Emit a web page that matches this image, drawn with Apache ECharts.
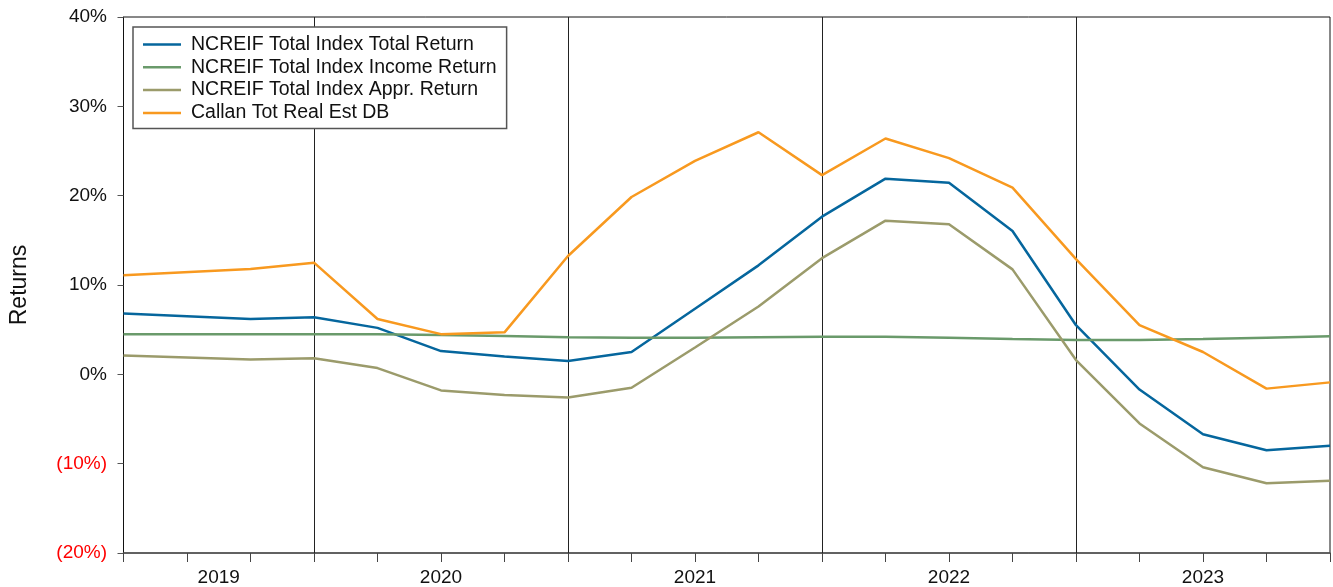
<!DOCTYPE html>
<html>
<head>
<meta charset="utf-8">
<script src="https://cdn.jsdelivr.net/npm/echarts@6/dist/echarts.min.js"></script>
<style>
  html, body { margin: 0; padding: 0; background: #fff; }
  #chart { width: 1333px; height: 587px; }
</style>
</head>
<body>
<div id="chart"></div>
<script>
// quarter ends shown on the chart (2019 Q2 has no point)
var quarters = ['2019Q1', '2019Q3', '2019Q4', '2020Q1', '2020Q2', '2020Q3', '2020Q4',
	'2021Q1', '2021Q2', '2021Q3', '2021Q4', '2022Q1', '2022Q2', '2022Q3', '2022Q4',
	'2023Q1', '2023Q2', '2023Q3', '2023Q4'];
var totalReturn = [6.8, 6.2, 6.4, 5.2, 2.6, 2.0, 1.5, 2.5, 7.35, 12.2, 17.65, 21.9, 21.45, 16.05, 5.5, -1.7, -6.7, -8.5, -8.0];
var incomeReturn = [4.5, 4.5, 4.5, 4.5, 4.4, 4.3, 4.15, 4.1, 4.1, 4.15, 4.2, 4.2, 4.1, 3.95, 3.85, 3.85, 3.95, 4.1, 4.25];
var apprReturn = [2.1, 1.65, 1.8, 0.7, -1.8, -2.3, -2.6, -1.5, 3.0, 7.6, 13.0, 17.2, 16.8, 11.75, 1.6, -5.5, -10.4, -12.2, -11.9];
var callanDB = [11.1, 11.8, 12.5, 6.2, 4.5, 4.7, 13.25, 19.85, 23.9, 27.1, 22.3, 26.4, 24.2, 20.9, 12.9, 5.5, 2.5, -1.6, -0.9];
var seriesNames = ['NCREIF Total Index Total Return', 'NCREIF Total Index Income Return',
	'NCREIF Total Index Appr. Return', 'Callan Tot Real Est DB'];
var yearLabels = ['2019', '2020', '2021', '2022', '2023'];
var yearBoundaries = ['2019Q4', '2020Q4', '2021Q4', '2022Q4'];
var yTicks = [-20, -10, 0, 10, 20, 30, 40];

var font = 'Liberation Sans, Arial, Helvetica, sans-serif';
var colors = ['#05669d', '#6a9a6b', '#9b9b6b', '#f8991f'];

// quarter label -> position on axis (0 = 2019 Q1)
function qPos(q) {
	return (parseInt(q.substr(0, 4), 10) - 2019) * 4 + parseInt(q.substr(5), 10) - 1;
}
var xMin = qPos(quarters[0]);
var xMax = qPos(quarters[quarters.length - 1]);

// year label sits mid-way through the visible part of its year
var yearPos = {};
yearLabels.forEach(function (y) {
	var start = Math.max(qPos(y + 'Q1') - 1, xMin);
	var end = Math.min(qPos(y + 'Q4'), xMax);
	yearPos[(start + end) / 2] = y;
});

function pairs(vals) {
	return vals.map(function (v, i) { return [qPos(quarters[i]), v]; });
}

var chart = echarts.init(document.getElementById('chart'));
var allData = [totalReturn, incomeReturn, apprReturn, callanDB];
var series = allData.map(function (vals, i) {
	return {
		name: seriesNames[i],
		type: 'line',
		symbol: 'none',
		data: pairs(vals),
		lineStyle: { width: 2.5, color: colors[i] },
		itemStyle: { color: colors[i] },
		z: 3
	};
});
series[0].markLine = {
	silent: true,
	symbol: 'none',
	label: { show: false },
	lineStyle: { color: '#222', width: 1, type: 'solid' },
	data: yearBoundaries.map(function (q) { return { xAxis: qPos(q) }; }),
	z: 1
};

var option = {
	animation: false,
	grid: {
		left: 123.5, top: 17, right: 1, bottom: 33,
		show: true, borderColor: '#111', borderWidth: 1
	},
	legend: {
		orient: 'vertical',
		left: 133, top: 27,
		padding: [7.5, 10, 5.5, 10],
		icon: 'rect',
		itemWidth: 38, itemHeight: 2.5, itemGap: 2.8,
		borderColor: '#555', borderWidth: 1.5, borderRadius: 0,
		backgroundColor: '#fff',
		textStyle: { fontFamily: font, fontSize: 19.5, lineHeight: 20, color: '#111', padding: [0, 0, 0, 5] },
		data: seriesNames
	},
	xAxis: [{
		type: 'value',
		min: xMin, max: xMax, interval: 1,
		axisLine: { show: true, onZero: false, lineStyle: { color: '#555', width: 1.5 } },
		axisTick: { show: true, length: 9, lineStyle: { color: '#444' } },
		axisLabel: { show: false },
		splitLine: { show: false }
	}, {
		type: 'value',
		position: 'bottom',
		min: xMin, max: xMax, interval: 0.5,
		axisLine: { show: false },
		axisTick: { show: false },
		splitLine: { show: false },
		axisLabel: {
			show: true, margin: 15,
			fontFamily: font, fontSize: 19, color: '#111',
			showMinLabel: true, showMaxLabel: true,
			formatter: function (v) { return yearPos[v] || ''; }
		}
	}],
	yAxis: {
		type: 'value',
		min: yTicks[0], max: yTicks[yTicks.length - 1], interval: 10,
		name: 'Returns',
		nameLocation: 'middle',
		nameGap: 92.5,
		nameTextStyle: { fontFamily: font, fontSize: 23, color: '#111' },
		axisLine: { show: true, lineStyle: { color: '#111', width: 1 } },
		axisTick: { show: true, length: 6, lineStyle: { color: '#555' } },
		splitLine: { show: false },
		axisLabel: {
			margin: 16.5,
			fontFamily: font, fontSize: 19,
			color: function (v) { return v < 0 ? '#ff0000' : '#111'; },
			formatter: function (v) { return v < 0 ? '(' + (-v) + '%)' : v + '%'; }
		}
	},
	series: series
};
chart.setOption(option);
</script>
</body>
</html>
